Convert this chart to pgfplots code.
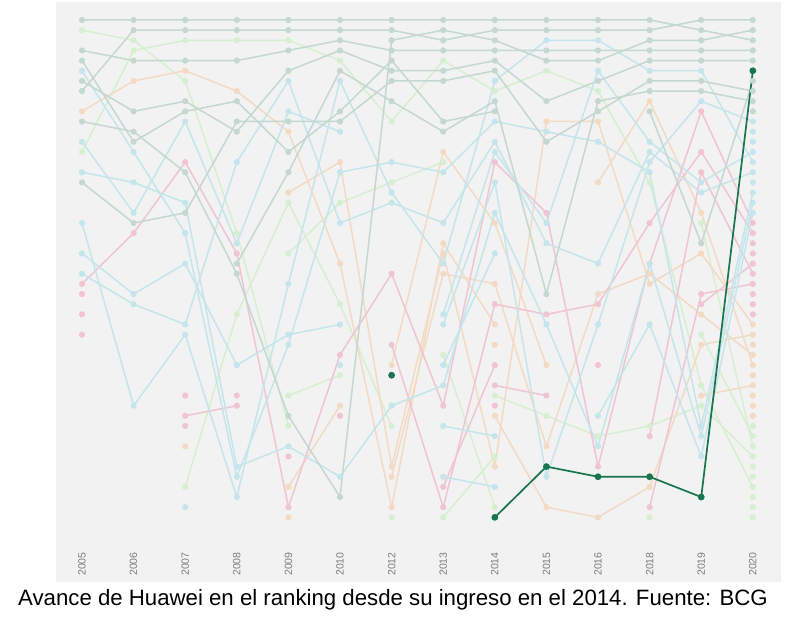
\documentclass[border=0pt]{standalone}
\usepackage{pgfplots}
\pgfplotsset{compat=1.18}
\usepackage{pgfplotstable}
\usepackage{fontspec}
\setmainfont{Liberation Sans}
\definecolor{bgc}{RGB}{242,242,242}
\definecolor{cG}{RGB}{196,216,207}
\definecolor{cB}{RGB}{196,229,236}
\definecolor{cK}{RGB}{240,196,208}
\definecolor{cP}{RGB}{242,218,196}
\definecolor{cN}{RGB}{214,239,209}
\definecolor{cH}{RGB}{24,117,78}
\definecolor{labc}{RGB}{125,125,125}

% x: 0=2005 1=2006 2=2007 3=2008 4=2009 5=2010 6=2012 7=2013 8=2014 9=2015 10=2016 11=2018 12=2019 13=2020
\pgfplotstableread{
x A B C D E F G H I
0 1 8 4 5 7 11 17 nan nan
1 1 2 5 13 10 12 21 nan nan
2 1 2 5 10 9 16 20 nan nan
3 1 2 5 9 12 26 11 25 nan
4 1 2 4 14 6 40 11 16 nan
5 1 2 3 10 4 48 11 6 nan
6 1 2 4 5 6 3 7 9 nan
7 1 3 4 11 6 2 7 12 nan
8 1 2 4 10 5 3 6 9 nan
9 1 2 4 nan 9 5 13 28 nan
10 1 2 4 nan 7 5 10 9 nan
11 1 2 4 10 5 3 7 8 nan
12 2 1 4 23 5 3 7 8 nan
13 3 1 4 7 5 2 8 9 10
}\gtab

\pgfplotstableread{
x A B C D E F G H I J
0 6 13 16 21 24 26 nan nan nan nan
1 14 20 17 39 28 29 nan nan nan nan
2 22 11 19 32 25 31 49 nan nan nan
3 46 23 45 48 35 15 nan nan nan nan
4 33 10 43 27 32 7 nan nan nan nan
5 16 12 46 7 31 21 35 nan nan nan
6 15 nan 39 18 nan 19 nan nan nan nan
7 16 30 37 25 31 21 35 41 46 nan
8 11 14 20 7 17 13 24 42 47 nan
9 12 21 31 3 46 23 nan nan nan nan
10 13 6 43 3 31 25 40 nan nan nan
11 16 13 25 6 15 14 31 nan nan nan
12 41 17 42 6 9 18 44 nan nan nan
13 18 14 19 15 11 16 20 12 13 17
}\btab

\pgfplotstableread{
x A B C D E F G H I J
0 27 28 30 32 nan nan nan nan nan nan
1 22 nan nan nan nan nan nan nan nan nan
2 15 nan 40 38 nan 41 nan nan nan nan
3 24 nan 39 nan 38 nan nan nan nan nan
4 49 nan nan 44 nan nan nan nan nan nan
5 34 nan 40 nan nan nan nan nan nan nan
6 26 33 nan nan nan nan nan nan nan nan
7 39 49 47 nan nan nan nan nan nan nan
8 15 29 35 37 39 nan nan nan nan nan
9 20 30 nan 38 nan nan nan nan nan nan
10 45 29 35 nan nan nan nan nan nan nan
11 25 21 nan 42 49 nan nan nan nan nan
12 10 14 nan 16 28 29 nan nan nan nan
13 21 22 23 26 27 25 24 28 29 30
}\ktab

\pgfplotstableread{
x A B C D E F G H I J
0 10 nan nan nan nan nan nan nan nan nan
1 7 nan nan nan nan nan nan nan nan nan
2 6 nan nan nan 43 nan nan nan nan nan
3 8 nan nan nan nan nan nan nan nan nan
4 12 18 nan nan 47 50 nan nan nan nan
5 25 15 nan nan 39 nan nan nan nan nan
6 49 45 35 46 nan nan nan nan nan nan
7 23 24 14 26 nan nan nan nan nan nan
8 31 45 21 27 40 33 nan nan nan nan
9 nan 11 35 43 49 nan nan nan nan nan
10 nan 11 nan 28 50 17 nan nan nan nan
11 nan 27 nan 26 47 9 nan nan nan nan
12 nan 24 nan 30 33 20 38 nan nan nan
13 38 31 36 34 32 35 37 33 39 40
}\ptab

\pgfplotstableread{
x A B C D E F G H I J
0 2 14 nan nan nan nan nan nan nan nan
1 3 4 nan nan nan nan nan nan nan nan
2 7 3 47 nan nan nan nan nan nan nan
3 22 3 30 nan nan nan nan nan nan nan
4 41 3 19 24 38 nan nan nan nan nan
5 nan 5 29 19 36 nan nan nan nan nan
6 50 11 41 17 nan nan nan nan nan nan
7 nan 5 nan 15 nan 34 50 nan nan nan
8 nan 8 nan nan nan 49 44 38 nan nan
9 nan 6 nan nan nan nan nan 40 nan nan
10 nan 8 nan nan nan nan nan 42 nan nan
11 nan 17 nan nan nan nan nan 41 nan 50
12 21 37 nan nan nan nan nan 39 32 nan
13 43 47 50 48 49 45 46 44 42 41
}\ntab

\pgfplotstableread{
x r
6 36
7 nan
8 50
9 45
10 46
11 46
12 48
13 6
}\htab

\pgfplotsset{ser/.style={line width=1.5bp, mark=*, mark size=2.3bp, mark options={solid}}}

\begin{document}
\begin{tikzpicture}
\path (0,0) rectangle (786bp,624bp);
\fill[bgc] (56bp,42bp) rectangle (781bp,622bp);
\begin{axis}[at={(56bp,42bp)}, anchor=south west, scale only axis,
  width=725bp, height=580bp,
  xmin=-0.5039, xmax=13.546, ymin=-0.773, ymax=56.37, y dir=reverse,
  axis lines=none, xtick=\empty, ytick=\empty,
  unbounded coords=jump, clip=false]
\pgfplotsinvokeforeach{A,B,C,D,E,F,G,H,I,J}{\addplot[ser, color=cN] table[x=x,y=#1]{\ntab};}
\pgfplotsinvokeforeach{A,B,C,D,E,F,G,H,I,J}{\addplot[ser, color=cP] table[x=x,y=#1]{\ptab};}
\pgfplotsinvokeforeach{A,B,C,D,E,F,G,H,I,J}{\addplot[ser, color=cK] table[x=x,y=#1]{\ktab};}
\pgfplotsinvokeforeach{A,B,C,D,E,F,G,H,I,J}{\addplot[ser, color=cB] table[x=x,y=#1]{\btab};}
\pgfplotsinvokeforeach{A,B,C,D,E,F,G,H,I}{\addplot[ser, color=cG] table[x=x,y=#1]{\gtab};}
\addplot[line width=1.7bp, color=cH, mark=*, mark size=2.5bp] table[x=x,y=r]{\htab};
\begin{scope}[every node/.style={rotate=90, font=\fontsize{10.6}{12}\selectfont, text=labc, inner sep=0pt}]
\node at (axis cs:0,54.6) {2005};
\node at (axis cs:1,54.6) {2006};
\node at (axis cs:2,54.6) {2007};
\node at (axis cs:3,54.6) {2008};
\node at (axis cs:4,54.6) {2009};
\node at (axis cs:5,54.6) {2010};
\node at (axis cs:6,54.6) {2012};
\node at (axis cs:7,54.6) {2013};
\node at (axis cs:8,54.6) {2014};
\node at (axis cs:9,54.6) {2015};
\node at (axis cs:10,54.6) {2016};
\node at (axis cs:11,54.6) {2018};
\node at (axis cs:12,54.6) {2019};
\node at (axis cs:13,54.6) {2020};
\end{scope}
\end{axis}
\node[anchor=base, inner sep=0pt, font=\fontsize{22.3}{26}\selectfont] at (393bp,19bp) {Avance de Huawei en el ranking desde su ingreso en el 2014. Fuente: BCG};
\end{tikzpicture}
\end{document}
